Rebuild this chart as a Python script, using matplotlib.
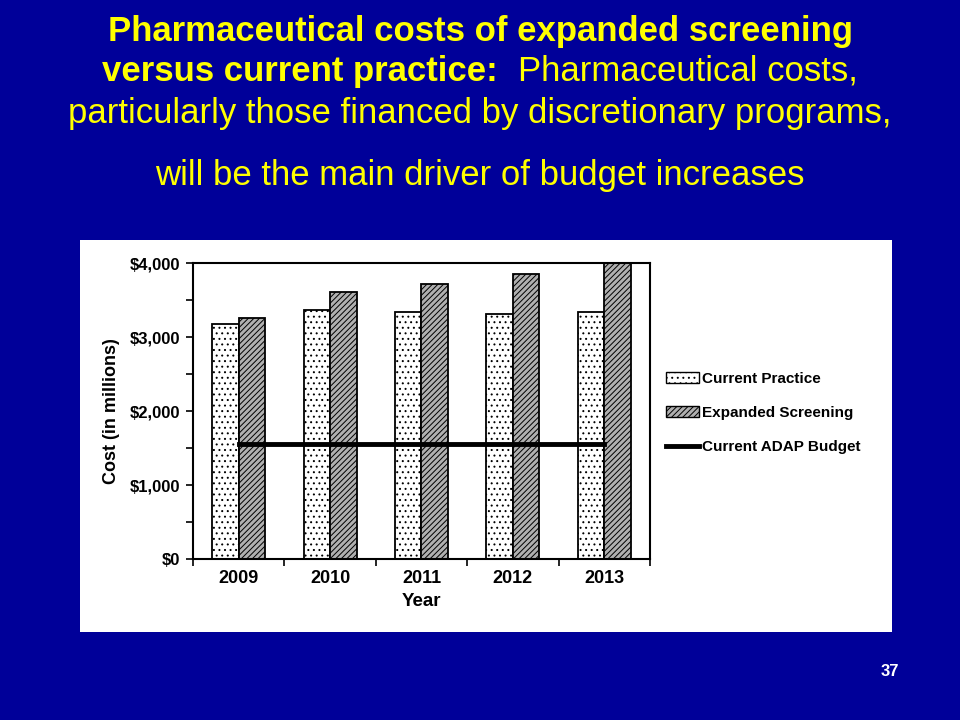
"""
Pharmaceutical costs of expanded screening vs current practice (slide 37).
"""
import matplotlib
matplotlib.use("Agg")
import matplotlib.pyplot as plt
from matplotlib.patches import Rectangle, Patch
from matplotlib.lines import Line2D
from matplotlib.ticker import FixedLocator, FuncFormatter
import numpy as np

years = ["2009", "2010", "2011", "2012", "2013"]
current_practice = [3175, 3365, 3340, 3310, 3340]
expanded_screening = [3255, 3610, 3715, 3850, 4000]
adap_budget = [1550, 1550, 1550, 1550, 1550]

BG = "#000099"
YELLOW = "#FFFF00"

plt.rcParams["font.family"] = ["Liberation Sans", "DejaVu Sans"]
plt.rcParams["hatch.linewidth"] = 0.7

fig = plt.figure(figsize=(9.6, 7.2), dpi=100, facecolor=BG)

# white picture box behind the chart
fig.patches.append(Rectangle((80 / 960, 1 - 632 / 720), 812 / 960, 392 / 720,
                             transform=fig.transFigure, facecolor="white",
                             edgecolor="none", zorder=-10))

# slide title
TS = 25
fig.text(0.5, 1 - 31 / 720, "Pharmaceutical costs of expanded screening",
         ha="center", va="center", color=YELLOW, fontsize=TS, fontweight="bold")
t_bold = fig.text(0, 1 - 71 / 720, "versus current practice:",
                  ha="left", va="center", color=YELLOW, fontsize=TS, fontweight="bold")
t_norm = fig.text(0, 1 - 71 / 720, "Pharmaceutical costs,",
                  ha="left", va="center", color=YELLOW, fontsize=TS)
fig.text(0.5, 1 - 113 / 720, "particularly those financed by discretionary programs,",
         ha="center", va="center", color=YELLOW, fontsize=TS)
fig.text(0.5, 1 - 175 / 720, "will be the main driver of budget increases",
         ha="center", va="center", color=YELLOW, fontsize=TS)
fig.text(890 / 960, 1 - 671 / 720, "37", ha="center", va="center",
         color="white", fontsize=12, fontweight="bold")

# centre the mixed-weight second title line
renderer = fig.canvas.get_renderer()
wb = t_bold.get_window_extent(renderer).width
wn = t_norm.get_window_extent(renderer).width
gap = 20
start = 480 - (wb + gap + wn) / 2
t_bold.set_x(start / 960)
t_norm.set_x((start + wb + gap) / 960)

ax = fig.add_axes([193 / 960, 1 - 559 / 720, 457 / 960, 296 / 720])
ax.set_facecolor("white")

x = np.arange(len(years))
w = 0.29
ax.bar(x - w / 2, current_practice, w, color="white", edgecolor="black",
       linewidth=1.3, hatch="...", label="Current Practice", zorder=2)
ax.bar(x + w / 2, expanded_screening, w, color="#b0b0b0", edgecolor="black",
       linewidth=1.3, hatch="//////", label="Expanded Screening", zorder=2)
ax.plot(x, adap_budget, color="black", linewidth=3.5, zorder=3,
        label="Current ADAP Budget")

ax.set_xlim(-0.5, len(years) - 0.5)
ax.set_ylim(0, 4000)

ax.set_xticks(x)
ax.set_xticklabels(years, fontsize=13, fontweight="bold")
ax.xaxis.set_minor_locator(FixedLocator(np.arange(-0.5, len(years), 1.0)))
ax.tick_params(axis="x", which="major", length=0, pad=8)
ax.tick_params(axis="x", which="minor", length=5, width=1.2, direction="out")

ax.set_yticks(np.arange(0, 4001, 1000))
ax.yaxis.set_minor_locator(FixedLocator(np.arange(500, 4000, 1000)))
ax.yaxis.set_major_formatter(FuncFormatter(lambda v, p: r"\$" + f"{int(v):,}"))
ax.tick_params(axis="y", which="both", length=5, width=1.2, direction="out",
               labelsize=12, pad=4)
for lbl in ax.get_yticklabels():
    lbl.set_fontweight("bold")

for s in ax.spines.values():
    s.set_linewidth(1.5)

ax.set_xlabel("Year", fontsize=13.5, fontweight="bold", labelpad=4)
ax.set_ylabel("Cost (in millions)", fontsize=13, fontweight="bold", labelpad=7)

handles = [
    Patch(facecolor="white", edgecolor="black", hatch="...", label="Current Practice"),
    Patch(facecolor="#b0b0b0", edgecolor="black", hatch="//////",
          label="Expanded Screening"),
    Line2D([0], [0], color="black", linewidth=3.5, label="Current ADAP Budget"),
]
fig.legend(handles=handles, loc="center left", bbox_to_anchor=(652 / 960, 1 - 413 / 720),
           frameon=False, prop={"weight": "bold", "size": 11},
           handlelength=2.2, handleheight=0.7, handletextpad=0.2, labelspacing=1.3)

fig.savefig("out.png", dpi=100, facecolor=BG)
